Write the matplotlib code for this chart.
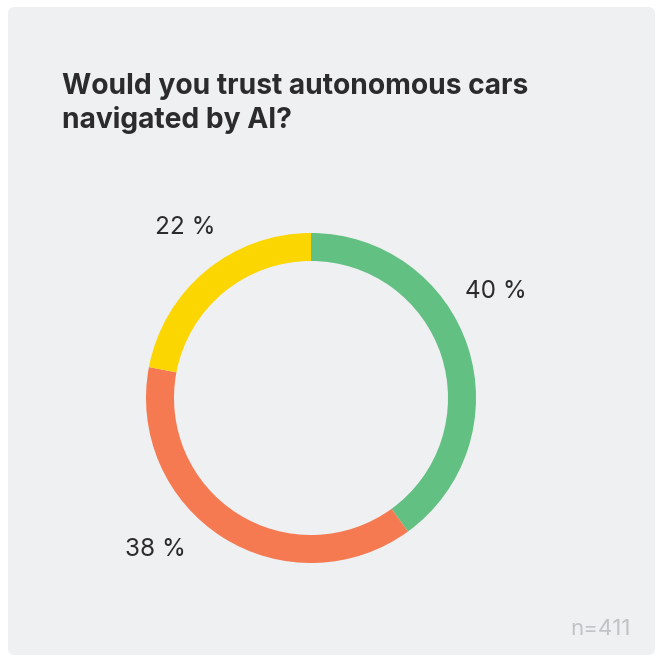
import matplotlib.pyplot as plt
from matplotlib.patches import FancyBboxPatch

# survey answers
answers = ["Yes", "No", "Not sure"]
shares = [40, 38, 22]
colors = ["#63c083", "#f57a52", "#fcd600"]
respondents = 411
title = "Would you trust autonomous cars\nnavigated by AI?"

W = H = 662
plt.rcParams["font.family"] = ["Inter", "DejaVu Sans"]

fig = plt.figure(figsize=(W / 100, H / 100), dpi=100)
fig.patch.set_facecolor("white")

# pixel-space axes covering the whole figure
ax = fig.add_axes([0, 0, 1, 1])

# card background
card = FancyBboxPatch((8, 7), 647, 648, boxstyle="round,pad=0,rounding_size=7",
                      facecolor="#eff0f2", edgecolor="none", zorder=0)
ax.add_patch(card)

# two-line title, anchored on the baseline of the last line
ax.text(62, H - 128, title, fontsize=20.3, fontweight="bold", color="#2b2b2d",
        ha="left", va="baseline", linespacing=1.25, zorder=3)

# donut
cx, cy, r = 311, H - 398, 165
wedges, _ = ax.pie(shares, colors=colors, startangle=90, counterclock=False,
                   radius=r, center=(cx, cy), frame=True,
                   wedgeprops=dict(width=28, linewidth=0))
ax.set_xlim(0, W)
ax.set_ylim(0, H)
ax.set_aspect("auto")
ax.axis("off")

# percentage labels
label_pos = [(496, H - 292), (155, H - 550), (185, H - 227)]
for (x, y), v in zip(label_pos, shares):
    ax.text(x, y, f"{v} %", fontsize=17.5, color="#2b2b2d",
            ha="center", va="center", zorder=3)

ax.text(631, H - 635, f"n={respondents}", fontsize=16, color="#c2c3c6",
        ha="right", va="baseline", zorder=3)

fig.savefig("out.png", dpi=100, facecolor="white")
